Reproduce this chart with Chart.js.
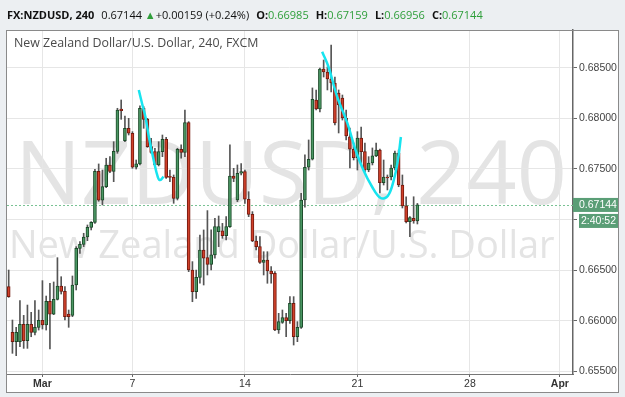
<!DOCTYPE html>
<html>
<head>
<meta charset="utf-8">
<script src="https://cdn.jsdelivr.net/npm/chart.js@4.4.0/dist/chart.umd.min.js"></script>
<style>
html, body { margin: 0; padding: 0; background: #eceff2; }
#wrap { position: relative; width: 625px; height: 397px; overflow: hidden; }
#hdr { position: absolute; left: 7px; top: 7px; font: 11px "Open Sans", sans-serif; line-height: 15px; color: #111; white-space: nowrap; }
#hdr b { font-weight: 700; }
#hdr .g { color: #2e9e3a; }
#hdr .sp { margin-left: 7px; }
</style>
</head>
<body>
<div id="wrap">
  <canvas id="myChart" width="625" height="397"></canvas>
  <div id="hdr"></div>
</div>
<script>
// 240 minute candles, index 0 = first bar on screen
var opens  = [0.66337,0.65885,0.65793,0.65793,0.65964,0.65803,0.65964,0.65885,0.65935,0.66004,
              0.65958,0.66192,0.66066,0.66211,0.66343,0.66290,0.66066,0.66053,0.66353,0.66715,
              0.66755,0.66827,0.66923,0.66972,0.67476,0.67190,0.67325,0.67539,0.67476,0.67674,
              0.68092,0.67779,0.67901,0.67852,0.67516,0.67549,0.68099,0.67990,0.67720,0.67671,
              0.67539,0.67671,0.67792,0.67424,0.67417,0.67209,0.67694,0.67664,0.67957,0.66501,
              0.66287,0.66429,0.66699,0.66623,0.66557,0.66650,0.66880,0.66887,0.66840,0.66929,
              0.67430,0.67193,0.67457,0.67473,0.67200,0.67051,0.66788,0.66732,0.66577,0.66600,
              0.66491,0.66468,0.65908,0.65984,0.66030,0.66001,0.66172,0.65842,0.65935,0.67193,
              0.67516,0.67595,0.68181,0.68092,0.68487,0.68457,0.68388,0.68349,0.68250,0.68201,
              0.68003,0.67818,0.67694,0.67611,0.67805,0.67670,0.67489,0.67558,0.67628,0.67687,
              0.67364,0.67420,0.67420,0.67509,0.67657,0.67341,0.67134,0.66978,0.67012,0.66985];
var highs  = [0.66501,0.66007,0.65935,0.66198,0.66053,0.66155,0.66083,0.66198,0.66106,0.66396,
              0.66244,0.66370,0.66383,0.66623,0.66435,0.66337,0.66106,0.66442,0.66732,0.66781,
              0.66864,0.66946,0.66979,0.67496,0.67549,0.67489,0.67605,0.67621,0.67769,0.68099,
              0.68181,0.68023,0.68000,0.67868,0.67588,0.68122,0.68115,0.68000,0.67802,0.67704,
              0.67769,0.67835,0.67812,0.67489,0.67440,0.67704,0.67737,0.68082,0.67967,0.66584,
              0.66501,0.66847,0.66897,0.67088,0.66897,0.67012,0.67035,0.66962,0.67028,0.67737,
              0.67506,0.67539,0.67553,0.67489,0.67275,0.67078,0.66837,0.66831,0.66682,0.66682,
              0.66534,0.66485,0.66073,0.66106,0.66073,0.66238,0.66238,0.65991,0.67259,0.67638,
              0.67786,0.68300,0.68280,0.68497,0.68576,0.68507,0.68724,0.68408,0.68280,0.68230,
              0.68082,0.67904,0.67756,0.67868,0.67914,0.67756,0.67621,0.67707,0.67756,0.67697,
              0.67588,0.67440,0.67539,0.67677,0.67687,0.67440,0.67225,0.67028,0.67225,0.67159];
var lows   = [0.66231,0.65678,0.65655,0.65744,0.65727,0.65727,0.65842,0.65859,0.65908,0.65918,
              0.65908,0.65721,0.66060,0.66205,0.66264,0.66007,0.65935,0.66040,0.66304,0.66666,
              0.66732,0.66791,0.66897,0.66962,0.67180,0.67144,0.67315,0.67463,0.67374,0.67654,
              0.67990,0.67769,0.67835,0.67506,0.67499,0.67539,0.67901,0.67713,0.67654,0.67522,
              0.67529,0.67621,0.67407,0.67374,0.67160,0.67193,0.67605,0.67621,0.66485,0.66188,
              0.66221,0.66370,0.66353,0.66452,0.66501,0.66617,0.66732,0.66814,0.66798,0.66923,
              0.67374,0.67177,0.67440,0.67160,0.67028,0.66781,0.66699,0.66567,0.66452,0.66370,
              0.66370,0.65902,0.65875,0.65974,0.65842,0.65974,0.65760,0.65793,0.65925,0.67121,
              0.67489,0.67588,0.68082,0.68062,0.68408,0.68280,0.68260,0.67934,0.67855,0.67983,
              0.67786,0.67509,0.67588,0.67489,0.67558,0.67472,0.67472,0.67539,0.67621,0.67262,
              0.67341,0.67292,0.67390,0.67489,0.67324,0.67114,0.66966,0.66830,0.66963,0.66956];
var closes = [0.66238,0.65793,0.65885,0.65964,0.65803,0.65964,0.65885,0.65935,0.66004,0.65958,
              0.66192,0.66066,0.66211,0.66343,0.66290,0.66040,0.66040,0.66353,0.66715,0.66755,
              0.66827,0.66923,0.66972,0.67476,0.67190,0.67325,0.67539,0.67476,0.67674,0.68082,
              0.68076,0.67901,0.67852,0.67516,0.67549,0.68099,0.67990,0.67720,0.67664,0.67539,
              0.67671,0.67792,0.67417,0.67417,0.67209,0.67694,0.67664,0.67957,0.66501,0.66287,
              0.66429,0.66699,0.66617,0.66557,0.66650,0.66929,0.66929,0.66840,0.66929,0.67430,
              0.67407,0.67456,0.67473,0.67200,0.67051,0.66788,0.66732,0.66577,0.66600,0.66491,
              0.66462,0.65908,0.65991,0.66030,0.66001,0.66172,0.65842,0.65935,0.67193,0.67516,
              0.67595,0.68188,0.68092,0.68487,0.68457,0.68388,0.68349,0.67954,0.68131,0.68003,
              0.67825,0.67694,0.67611,0.67805,0.67670,0.67489,0.67558,0.67628,0.67687,0.67364,
              0.67420,0.67410,0.67509,0.67657,0.67341,0.67134,0.66978,0.67018,0.66985,0.67144];

// day ticks (bar index) and their labels
var tickIdx  = [9, 33, 63, 93, 123, 147];
var tickText = ['Mar', '7', '14', '21', '28', 'Apr'];
var priceTicks = [0.655, 0.66, 0.665, 0.67, 0.675, 0.68, 0.685];

// hand drawn cyan marks, in (bar index, price)
var curveA = [[34.7,0.68280],[35.6,0.68141],[36.5,0.68009],[37.4,0.67812],[38.7,0.67582],
              [39.8,0.67417],[40.4,0.67390],[41.3,0.67423]];
var curveB = [[83.6,0.68658],[85.3,0.68507],[87.6,0.68213],[90.3,0.67954],[92.5,0.67687],
              [94.6,0.67489],[96.8,0.67331],[99.2,0.67213],[101.1,0.67232],[102.7,0.67390],
              [103.8,0.67588],[104.6,0.67815]];

var symbol = 'FX:NZDUSD, 240';
var longName = 'New Zealand Dollar/U.S. Dollar';
var timer = '2:40:52';

var last = closes.length - 1;
var lastClose = closes[last];

// header line
var chg = closes[last] - opens[last];
document.getElementById('hdr').innerHTML =
    '<b>' + symbol + '</b><span class="sp"></span>' + lastClose.toFixed(5) +
    ' <span class="g">&#9650;</span>' + (chg >= 0 ? '+' : '') + chg.toFixed(5) +
    ' (' + (chg >= 0 ? '+' : '') + (chg / opens[last] * 100).toFixed(2) + '%)' +
    '<span class="sp"></span><b>O:</b><span class="g">' + opens[last].toFixed(5) + '</span>' +
    '<span class="sp"></span><b>H:</b><span class="g">' + highs[last].toFixed(5) + '</span>' +
    '<span class="sp"></span><b>L:</b><span class="g">' + lows[last].toFixed(5) + '</span>' +
    '<span class="sp"></span><b>C:</b><span class="g">' + closes[last].toFixed(5) + '</span>';

var isUp = function (i) { return closes[i] >= opens[i]; };
var wicks = opens.map(function (o, i) { return { x: i, y: [lows[i], highs[i]] }; });
var bodies = opens.map(function (o, i) { return { x: i, y: [o, closes[i]] }; });
var bodyFill = opens.map(function (o, i) { return isUp(i) ? '#4a9763' : '#d0402a'; });
var bodyLine = opens.map(function (o, i) { return isUp(i) ? '#1b4a29' : '#74190e'; });
var toXY = function (arr) { return arr.map(function (p) { return { x: p[0], y: p[1] }; }); };

function fitFont(ctx, text, width, weight) {
    ctx.font = weight + ' 100px "Open Sans", sans-serif';
    var s = 100 * width / ctx.measureText(text).width;
    ctx.font = weight + ' ' + s + 'px "Open Sans", sans-serif';
}

var deco = {
    id: 'deco',
    beforeDraw: function (chart) {
        var ctx = chart.ctx, a = chart.chartArea;
        ctx.save();
        ctx.fillStyle = '#eceff2';
        ctx.fillRect(0, 0, chart.width, chart.height);
        ctx.fillStyle = '#ffffff';
        ctx.fillRect(6, 30, 613, 363);
        // watermark
        ctx.beginPath();
        ctx.rect(a.left, a.top, a.right - a.left, a.bottom - a.top);
        ctx.clip();
        ctx.fillStyle = '#e4e4e4';
        ctx.textBaseline = 'alphabetic';
        ctx.textAlign = 'left';
        fitFont(ctx, 'NZDUSD, 240', 552, 'normal');
        ctx.fillText('NZDUSD, 240', 15, 204);
        fitFont(ctx, longName, 546, 'normal');
        ctx.fillText(longName, 9, 258);
        ctx.restore();
    },
    beforeDatasetsDraw: function (chart) {
        var ctx = chart.ctx, a = chart.chartArea;
        var y = Math.round(chart.scales.y.getPixelForValue(lastClose)) + 0.5;
        ctx.save();
        ctx.strokeStyle = '#79c294';
        ctx.lineWidth = 1;
        ctx.setLineDash([2, 2]);
        ctx.beginPath();
        ctx.moveTo(a.left, y);
        ctx.lineTo(a.right, y);
        ctx.stroke();
        ctx.restore();
    },
    afterDraw: function (chart) {
        var ctx = chart.ctx, a = chart.chartArea;
        var y = chart.scales.y.getPixelForValue(lastClose);
        ctx.save();
        ctx.fillStyle = '#5a9e76';
        ctx.fillRect(a.right, y - 7, 46, 14);
        ctx.fillRect(a.right + 6, y + 9, 40, 14);
        ctx.fillStyle = '#ffffff';
        ctx.font = '10.5px "Liberation Sans", Arial, sans-serif';
        ctx.textBaseline = 'middle';
        ctx.textAlign = 'left';
        ctx.fillText(lastClose.toFixed(5), a.right + 6, y + 0.5);
        ctx.fillText(timer, a.right + 8, y + 16.5);
        // title
        ctx.fillStyle = '#4a4a4a';
        ctx.font = '12.4px "Open Sans", sans-serif';
        ctx.fillText(longName + ', 240, FXCM', 14, 43);
        // panel frame
        ctx.strokeStyle = '#8a8a8a';
        ctx.lineWidth = 1;
        ctx.strokeRect(6.5, 30.5, 612, 362);
        ctx.restore();
    }
};

var ctx = document.getElementById('myChart').getContext('2d');
var myChart = new Chart(ctx, {
    type: 'bar',
    data: {
        datasets: [
            {
                type: 'line',
                data: toXY(curveA),
                borderColor: '#17e4ef',
                borderWidth: 2.5,
                pointRadius: 0,
                tension: 0.4,
                fill: false,
                order: 0
            },
            {
                type: 'line',
                data: toXY(curveB),
                borderColor: '#17e4ef',
                borderWidth: 2.5,
                pointRadius: 0,
                tension: 0.4,
                fill: false,
                order: 0
            },
            {
                data: bodies,
                backgroundColor: bodyFill,
                borderColor: bodyLine,
                borderWidth: 1,
                borderSkipped: false,
                barThickness: 3,
                minBarLength: 1,
                grouped: false,
                order: 1
            },
            {
                data: wicks,
                backgroundColor: '#555555',
                borderWidth: 0,
                barThickness: 1,
                grouped: false,
                order: 2
            }
        ]
    },
    options: {
        responsive: false,
        animation: false,
        events: [],
        layout: { padding: { left: 7, top: 30, right: 6, bottom: 4 } },
        plugins: {
            legend: { display: false },
            tooltip: { enabled: false },
            title: { display: false }
        },
        scales: {
            x: {
                type: 'linear',
                min: -0.45,
                max: 150.5,
                offset: false,
                afterBuildTicks: function (s) { s.ticks = tickIdx.map(function (v) { return { value: v }; }); },
                afterFit: function (s) { s.height = 19; },
                grid: { color: '#e6e6e6', offset: false, tickLength: 3, tickColor: '#666' },
                border: { color: '#777', width: 1 },
                ticks: {
                    autoSkip: false,
                    maxRotation: 0,
                    padding: 1,
                    color: '#333',
                    callback: function (v) { return tickText[tickIdx.indexOf(v)]; },
                    font: function (c) {
                        var lbl = c.tick ? tickText[tickIdx.indexOf(c.tick.value)] : '';
                        return { family: '"Liberation Sans", Arial, sans-serif', size: 10.5,
                                 weight: /[A-Za-z]/.test(lbl || '') ? 'bold' : 'normal' };
                    }
                }
            },
            y: {
                type: 'linear',
                position: 'right',
                min: 0.654737,
                max: 0.688724,
                afterBuildTicks: function (s) { s.ticks = priceTicks.map(function (v) { return { value: v }; }); },
                afterFit: function (s) { s.width = 46; },
                grid: { color: '#e6e6e6', tickLength: 4, tickColor: '#666' },
                border: { color: '#666', width: 1.5 },
                ticks: {
                    padding: 2,
                    color: '#444',
                    font: { family: '"Liberation Sans", Arial, sans-serif', size: 10.5 },
                    callback: function (v) { return Number(v).toFixed(5); }
                }
            }
        }
    },
    plugins: [deco]
});
</script>
</body>
</html>
